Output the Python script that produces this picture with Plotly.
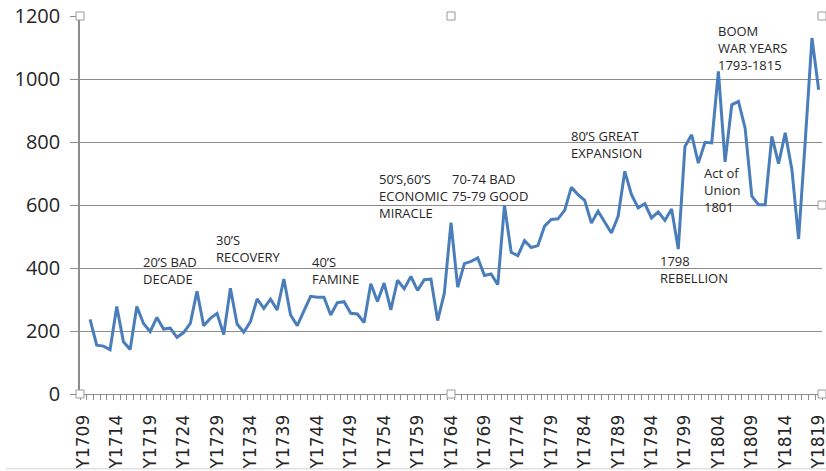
import plotly.graph_objects as go

years = list(range(1709, 1820))
values = [None,
          237, 155, 152, 141, 278, 166, 141, 278, 224, 198,
          243, 206, 209, 180, 195, 224, 326, 217, 240, 256,
          189, 336, 222, 196, 230, 302, 272, 301, 267, 365,
          251, 217, 264, 310, 307, 307, 251, 290, 293, 256,
          254, 227, 350, 294, 352, 267, 361, 334, 373, 329,
          363, 365, 233, 320, 544, 339, 414, 421, 432, 376,
          381, 347, 599, 450, 439, 487, 465, 471, 533, 554,
          556, 583, 656, 633, 615, 543, 580, 545, 511, 564,
          707, 633, 591, 604, 559, 578, 551, 587, 460, 786,
          823, 733, 799, 797, 1024, 737, 918, 929, 844, 628,
          601, 601, 818, 731, 829, 712, 492, 805, 1130, 966]

tick_years = years[::5]
tick_labels = ["Y%d" % y for y in tick_years]
y_ticks = [0, 200, 400, 600, 800, 1000, 1200]

notes = [
    ("20’S BAD<br>DECADE", 1717.6, 392),
    ("30’S<br>RECOVERY", 1728.6, 463),
    ("40’S<br>FAMINE", 1742.9, 392),
    ("50’S,60’S<br>ECONOMIC<br>MIRACLE", 1752.9, 629),
    ("70-74 BAD<br>75-79 GOOD", 1763.9, 654),
    ("80’S GREAT<br>EXPANSION", 1781.7, 792),
    ("1798<br>REBELLION", 1794.9, 394),
    ("Act of<br>Union<br>1801", 1801.5, 649),
    ("BOOM<br>WAR YEARS<br>1793-1815", 1803.7, 1098),
]

fig = go.Figure()
fig.add_trace(go.Scatter(x=years, y=values, mode="lines",
                         line=dict(color="#4A7EBB", width=3),
                         connectgaps=False, hoverinfo="x+y"))

for txt, x, y in notes:
    fig.add_annotation(x=x, y=y, text=txt, showarrow=False, xanchor="left",
                       yanchor="middle", align="left",
                       font=dict(family="Open Sans", size=13, color="#262626"))

grid = "#8C8C8C"
fig.update_xaxes(range=[1708.5, 1819.5], tickmode="array", tickvals=tick_years,
                 ticktext=tick_labels, tickangle=-90, ticks="",
                 tickfont=dict(family="DejaVu Sans", size=17, color="#262626"),
                 showline=True, linecolor=grid, linewidth=1, showgrid=False,
                 zeroline=False, ticklabelstandoff=13, ticklabeloverflow="allow",
                 automargin=False,
                 minor=dict(ticks="outside", tickmode="linear", tick0=1708.5, dtick=1,
                            ticklen=5, tickcolor=grid, tickwidth=1, showgrid=False))
fig.update_yaxes(range=[0, 1200], tickmode="array", tickvals=y_ticks,
                 ticks="outside", ticklen=8, tickcolor=grid,
                 tickfont=dict(family="Open Sans", size=20, color="#262626"),
                 showline=True, linecolor=grid, linewidth=1.5,
                 showgrid=True, gridcolor=grid, gridwidth=1, zeroline=False,
                 ticklabelstandoff=6, automargin=False)

# selection handles / chart frame decoration
handles = [(0, 1), (0.5, 1), (1, 1), (1, 0.5), (0.5, 0), (0, 0), (1, 0)]
for hx, hy in handles:
    fig.add_shape(type="rect", xref="paper", yref="paper", xsizemode="pixel",
                  ysizemode="pixel", xanchor=hx, yanchor=hy, x0=-4, x1=4, y0=-4, y1=4,
                  line=dict(color="#9A9A9A", width=1), fillcolor="white")
fig.add_shape(type="line", xref="paper", yref="paper", x0=-0.1, x1=1.01,
              y0=-0.198, y1=-0.198, line=dict(color="#D0D0D0", width=1))

fig.update_layout(width=826, height=471, margin=dict(l=80, r=4, t=16, b=77),
                  plot_bgcolor="white", paper_bgcolor="white", showlegend=False)
fig.write_html("out.html")
